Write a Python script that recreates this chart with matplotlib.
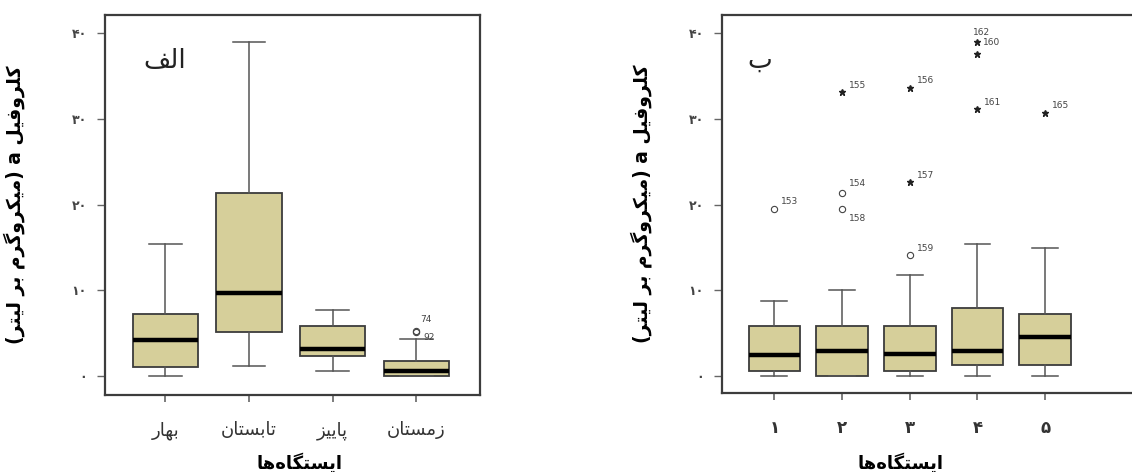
import matplotlib
matplotlib.use("Agg")
import matplotlib.pyplot as plt

# ---------------------------------------------------------------------------
# Data: chlorophyll a (micrograms per litre)
# ---------------------------------------------------------------------------
seasons = ["بهار", "تابستان", "پاییز", "زمستان"]
season_low = [0.0, 1.2, 0.6, 0.0]
season_q1 = [1.1, 5.2, 2.3, 0.0]
season_med = [4.2, 9.7, 3.2, 0.6]
season_q3 = [7.2, 21.4, 5.8, 1.8]
season_high = [15.4, 39.0, 7.7, 4.3]
season_out_pos = [4, 4]
season_out_val = [5.3, 5.1]
season_out_lab = ["74", "92"]

stations = ["۱", "۲", "۳", "۴", "۵"]
station_low = [0.0, 0.0, 0.0, 0.0, 0.0]
station_q1 = [0.6, 0.0, 0.6, 1.3, 1.3]
station_med = [2.4, 2.95, 2.6, 2.95, 4.5]
station_q3 = [5.8, 5.8, 5.8, 7.9, 7.2]
station_high = [8.7, 10.0, 11.8, 15.4, 14.9]
# mild outliers (open circles)
station_out_pos = [1, 2, 2, 3]
station_out_val = [19.5, 21.3, 19.5, 14.1]
station_out_lab = ["153", "154", "158", "159"]
# extreme values (stars)
station_ext_pos = [2, 3, 3, 4, 4, 4, 5]
station_ext_val = [33.1, 33.6, 22.6, 38.9, 37.6, 31.1, 30.7]
station_ext_lab = ["155", "156", "157", "160", "162", "161", "165"]

y_ticks = [0, 10, 20, 30, 40]
y_tick_labels = ["۰", "۱۰", "۲۰", "۳۰", "۴۰"]

y_title = "کلروفیل a (میکروگرم بر لیتر)"
x_title = "ایستگاه‌ها"
panel_a = "الف"
panel_b = "ب"

# ---------------------------------------------------------------------------
# Minimal Arabic-script shaping (contextual forms + right-to-left order)
# ---------------------------------------------------------------------------
_FORMS = {
    "\u0627": ("\uFE8D", "\uFE8E", None, None),
    "\u0628": ("\uFE8F", "\uFE90", "\uFE91", "\uFE92"),
    "\u062A": ("\uFE95", "\uFE96", "\uFE97", "\uFE98"),
    "\u0631": ("\uFEAD", "\uFEAE", None, None),
    "\u0632": ("\uFEAF", "\uFEB0", None, None),
    "\u0633": ("\uFEB1", "\uFEB2", "\uFEB3", "\uFEB4"),
    "\u0641": ("\uFED1", "\uFED2", "\uFED3", "\uFED4"),
    "\u0644": ("\uFEDD", "\uFEDE", "\uFEDF", "\uFEE0"),
    "\u0645": ("\uFEE1", "\uFEE2", "\uFEE3", "\uFEE4"),
    "\u0646": ("\uFEE5", "\uFEE6", "\uFEE7", "\uFEE8"),
    "\u0647": ("\uFEE9", "\uFEEA", "\uFEEB", "\uFEEC"),
    "\u0648": ("\uFEED", "\uFEEE", None, None),
    "\u067E": ("\uFB56", "\uFB57", "\uFB58", "\uFB59"),
    "\u06A9": ("\uFB8E", "\uFB8F", "\uFB90", "\uFB91"),
    "\u06AF": ("\uFB92", "\uFB93", "\uFB94", "\uFB95"),
    "\u06CC": ("\uFBFC", "\uFBFD", "\uFBFE", "\uFBFF"),
}
_MIRROR = {"(": ")", ")": "("}


def rtl(text):
    chars = list(text)
    shaped = []
    for i, c in enumerate(chars):
        if c not in _FORMS:
            if c != "\u200c":
                shaped.append(c)
            continue
        iso, fin, ini, med = _FORMS[c]
        prev = chars[i - 1] if i > 0 else None
        nxt = chars[i + 1] if i + 1 < len(chars) else None
        jp = prev in _FORMS and _FORMS[prev][2] is not None
        jn = ini is not None and nxt in _FORMS
        if jp and jn:
            shaped.append(med)
        elif jp:
            shaped.append(fin)
        elif jn:
            shaped.append(ini)
        else:
            shaped.append(iso)
    vis = [_MIRROR.get(c, c) for c in reversed(shaped)]
    # keep left-to-right runs (latin letters / ascii digits) in reading order
    out, run = [], []
    for c in vis:
        if c.isascii() and c.isalnum():
            run.append(c)
        else:
            out.extend(reversed(run))
            run = []
            out.append(c)
    out.extend(reversed(run))
    return "".join(out)


# ---------------------------------------------------------------------------
BOX_FACE = "#d6cf9a"
EDGE = "#3c3c3c"
FONT = ["DejaVu Sans"]


def stats(low, q1, med, q3, high):
    return [dict(whislo=a, q1=b, med=c, q3=d, whishi=e, fliers=[])
            for a, b, c, d, e in zip(low, q1, med, q3, high)]


def style_axes(ax, ylim):
    ax.set_ylim(*ylim)
    ax.set_yticks(y_ticks)
    ax.set_yticklabels(y_tick_labels, fontsize=9, fontweight="bold",
                       color="#444444", family=FONT)
    for s in ax.spines.values():
        s.set_color(EDGE)
        s.set_linewidth(1.6)
    ax.tick_params(axis="y", length=6, width=1.0, color="#666666", pad=7)
    ax.tick_params(axis="x", length=5, width=1.2, color="#666666", pad=14)


def draw_boxes(ax, st, positions, width):
    ax.bxp(st, positions=positions, widths=width, patch_artist=True,
           showfliers=False,
           boxprops=dict(facecolor=BOX_FACE, edgecolor=EDGE, linewidth=1.3),
           medianprops=dict(color="black", linewidth=3.2),
           whiskerprops=dict(color="#555555", linewidth=1.1),
           capprops=dict(color="#555555", linewidth=1.1),
           capwidths=width * 0.5)


fig = plt.figure(figsize=(11.32, 4.72), dpi=100)
fig.patch.set_facecolor("white")

# ---- left panel: seasons -------------------------------------------------
ax1 = fig.add_axes([105 / 1132, 77 / 472, 375 / 1132, 380 / 472])
pos1 = list(range(1, len(seasons) + 1))
draw_boxes(ax1, stats(season_low, season_q1, season_med, season_q3,
                      season_high), pos1, 0.78)
ax1.set_xlim(0.28, 4.76)
style_axes(ax1, (-2.2, 42.1))
ax1.set_xticks(pos1)
ax1.set_xticklabels([rtl(s) for s in seasons], fontsize=13, color="#333333",
                    family=FONT)

ax1.plot(season_out_pos, season_out_val, linestyle="none", marker="o",
         markersize=4.5, markerfacecolor="none", markeredgecolor="#444444",
         markeredgewidth=0.8)
season_label_offsets = {"74": (3, 8), "92": (5, -4)}
for p, v, lab in zip(season_out_pos, season_out_val, season_out_lab):
    ax1.annotate(lab, (p, v), xytext=season_label_offsets[lab],
                 textcoords="offset points", fontsize=6.5, color="#444444",
                 ha="left", va="center")

ax1.text(0.16, 0.88, rtl(panel_a), transform=ax1.transAxes, fontsize=19,
         family=FONT, color="#222222", ha="center", va="center")
ax1.set_ylabel(rtl(y_title), fontsize=13.5, fontweight="bold", family=FONT)
ax1.yaxis.set_label_coords(-0.213, 0.5)
ax1.set_xlabel(rtl(x_title), fontsize=13, fontweight="bold", family=FONT)
ax1.xaxis.set_label_coords(0.52, -0.152)

# ---- right panel: stations -----------------------------------------------
ax2 = fig.add_axes([722 / 1132, 79 / 472, 418 / 1132, 378 / 472])
pos2 = list(range(1, len(stations) + 1))
draw_boxes(ax2, stats(station_low, station_q1, station_med, station_q3,
                      station_high), pos2, 0.76)
ax2.set_xlim(0.227, 6.4)
style_axes(ax2, (-1.98, 42.1))
ax2.set_xticks(pos2)
ax2.set_xticklabels(stations, fontsize=12, fontweight="bold",
                    color="#333333", family=FONT)

ax2.plot(station_out_pos, station_out_val, linestyle="none", marker="o",
         markersize=4.5, markerfacecolor="none", markeredgecolor="#444444",
         markeredgewidth=0.8)
ax2.plot(station_ext_pos, station_ext_val, linestyle="none", marker="*",
         markersize=5, color="#222222")

default_off = (5, 5)
station_label_offsets = {"154": (5, 7), "158": (5, -7), "160": (4, 0)}
for p, v, lab in zip(station_out_pos + station_ext_pos,
                     station_out_val + station_ext_val,
                     station_out_lab + station_ext_lab):
    off = station_label_offsets.get(lab, default_off)
    if lab == "162":
        # shares the crowded spot above the top extreme value
        v = station_ext_val[station_ext_lab.index("160")]
        off = (-3, 7)
    ax2.annotate(lab, (p, v), xytext=off, textcoords="offset points",
                 fontsize=6.5, color="#444444", ha="left", va="center")

ax2.text(0.09, 0.88, rtl(panel_b), transform=ax2.transAxes, fontsize=19,
         family=FONT, color="#222222", ha="center", va="center")
ax2.set_ylabel(rtl(y_title), fontsize=13.5, fontweight="bold", family=FONT)
ax2.yaxis.set_label_coords(-0.167, 0.5)
ax2.set_xlabel(rtl(x_title), fontsize=13, fontweight="bold", family=FONT)
ax2.xaxis.set_label_coords(0.426, -0.158)

fig.savefig("out.png", dpi=100, facecolor="white")
